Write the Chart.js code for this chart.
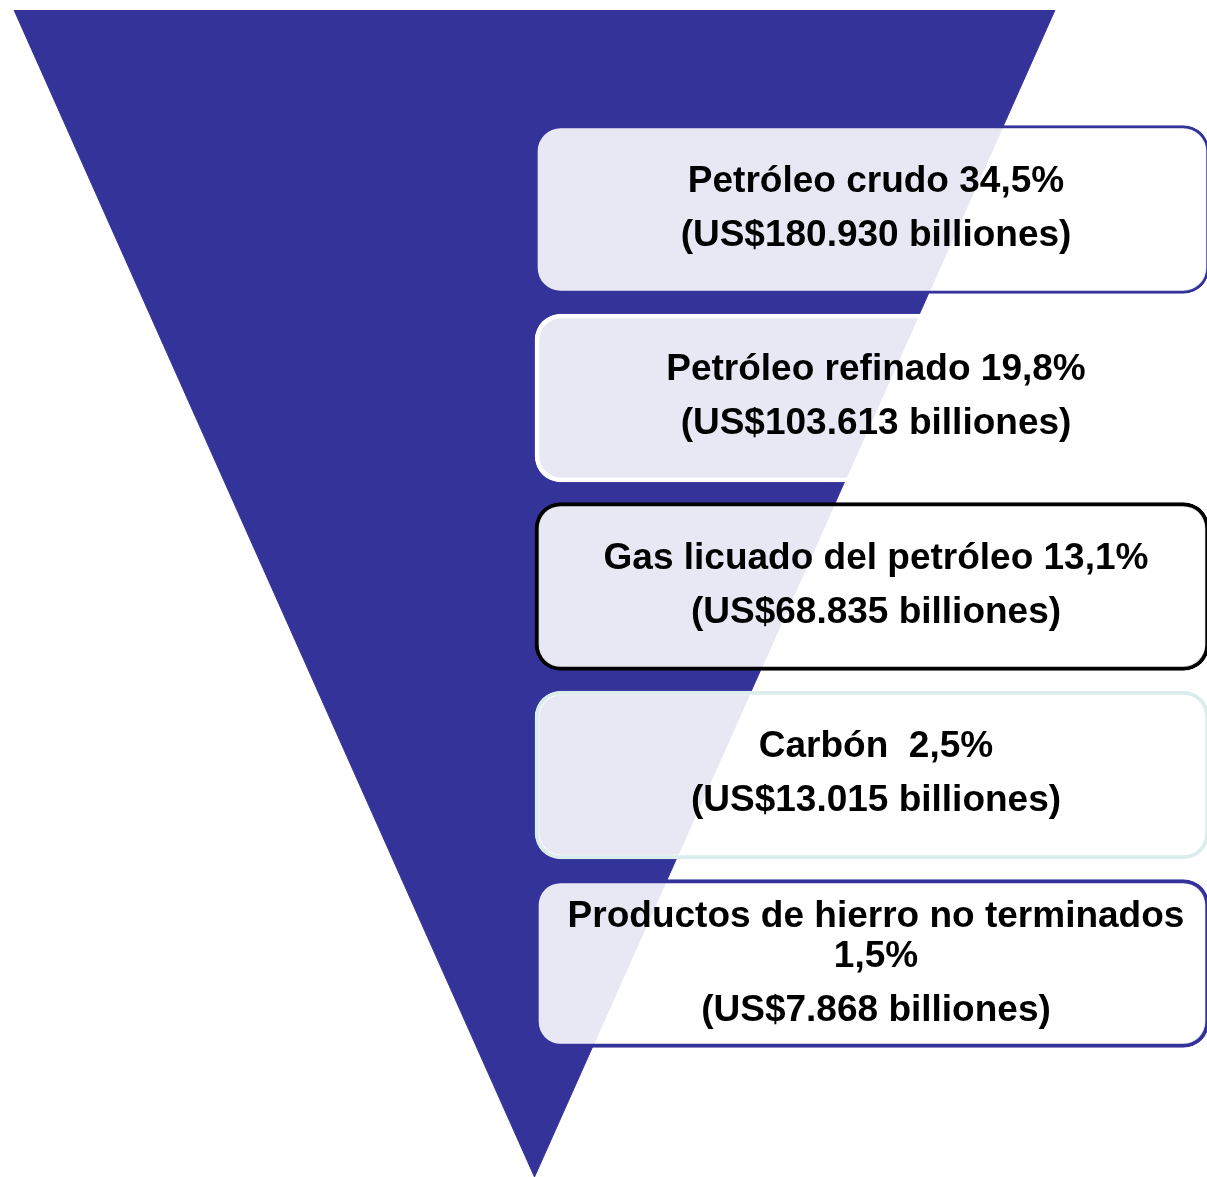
<!DOCTYPE html>
<html lang="es">
<head>
<meta charset="utf-8">
<title>Exportaciones</title>
<script src="https://cdn.jsdelivr.net/npm/chart.js@4.4.1/dist/chart.umd.min.js"></script>
<style>
  html, body { margin: 0; padding: 0; background: #fff; }
  #wrap { width: 1207px; height: 1177px; }
</style>
</head>
<body>
<div id="wrap"><canvas id="chart" width="1207" height="1177"></canvas></div>
<script>
'use strict';

var categories = ['Petróleo crudo', 'Petróleo refinado', 'Gas licuado del petróleo', 'Carbón ', 'Productos de hierro no terminados'];
var shares = [34.5, 19.8, 13.1, 2.5, 1.5];
var valuesUSD = [180930, 103613, 68835, 13015, 7868];

// funnel outline: top edge from -1 to 1, apex at 0
var funnelX = [-1, 0, 1];
var funnelY = [0, 1, 0];

// layout (pixels)
var W = 1207, H = 1177;
var BOX_LEFT = 535, BOX_RIGHT = 1209, BOX_H = 168;
var FIRST_CENTER = 209.5, STEP = 188.5;
var FUNNEL_LEFT = 14, FUNNEL_RIGHT = 1055, FUNNEL_TOP = 10;

var boxBorders = ['#343399', '#ffffff', '#000000', '#dbeced', '#343399'];
var boxBorderWidths = [3, 4, 4, 4, 4];

function fmtShare(v) {
  return v.toFixed(1).replace('.', ',') + '%';
}

function fmtUSD(v) {
  return 'US$' + String(v).replace(/\B(?=(\d{3})+(?!\d))/g, '.');
}

function boxLines(i) {
  var money = '(' + fmtUSD(valuesUSD[i]) + ' billiones)';
  if (categories[i].length > 28) {
    return [categories[i], fmtShare(shares[i]), money];
  }
  return [categories[i] + ' ' + fmtShare(shares[i]), money];
}

var boxText = {
  id: 'boxText',
  afterDatasetsDraw: function(chart) {
    var ctx = chart.ctx;
    var bars = chart.getDatasetMeta(0).data;
    ctx.save();
    ctx.font = 'bold 37px "Liberation Sans", Arial, sans-serif';
    ctx.fillStyle = '#000';
    ctx.textAlign = 'center';
    ctx.textBaseline = 'middle';
    bars.forEach(function(bar, i) {
      var lines = boxLines(i);
      var cx = (bar.x + bar.base) / 2 + 4;
      var offsets = lines.length === 2 ? [-28, 26] : [-47, -7, 47];
      lines.forEach(function(t, k) {
        ctx.fillText(t, cx, bar.y + offsets[k]);
      });
    });
    ctx.restore();
  }
};

var fHalf = (FUNNEL_RIGHT - FUNNEL_LEFT) / 2;
var fMid = FUNNEL_LEFT + fHalf;

function hiddenAxis(min, max, reverse) {
  return {
    type: 'linear', display: false, offset: false, beginAtZero: false,
    bounds: 'data', reverse: !!reverse, min: min, max: max, grace: 0
  };
}

var ctx = document.getElementById('chart').getContext('2d');
var myChart = new Chart(ctx, {
  type: 'bar',
  data: {
    labels: categories,
    datasets: [{
      type: 'bar',
      indexAxis: 'y',
      xAxisID: 'xb',
      yAxisID: 'yb',
      data: categories.map(function(c, i) {
        return { x: [BOX_LEFT, BOX_RIGHT], y: i };
      }),
      backgroundColor: 'rgba(255, 255, 255, 0.89)',
      borderColor: boxBorders,
      borderWidth: boxBorderWidths,
      borderRadius: 26,
      borderSkipped: false,
      barThickness: BOX_H,
      grouped: false,
      order: 1
    }, {
      type: 'line',
      indexAxis: 'x',
      xAxisID: 'xf',
      yAxisID: 'yf',
      data: funnelX.map(function(x, i) {
        return { x: x, y: funnelY[i] };
      }),
      fill: 'origin',
      backgroundColor: '#343399',
      borderColor: '#343399',
      borderWidth: 1,
      tension: 0,
      pointRadius: 0,
      clip: false,
      order: 2
    }]
  },
  options: {
    responsive: false,
    devicePixelRatio: 1,
    animation: false,
    layout: { padding: 0 },
    plugins: {
      legend: { display: false },
      tooltip: { enabled: false }
    },
    scales: {
      xb: hiddenAxis(0, W),
      yb: hiddenAxis(-FIRST_CENTER / STEP, (H - FIRST_CENTER) / STEP, true),
      xf: hiddenAxis(-fMid / fHalf, (W - fMid) / fHalf),
      yf: hiddenAxis(-FUNNEL_TOP / (H - FUNNEL_TOP), 1, true)
    }
  },
  plugins: [boxText]
});
</script>
</body>
</html>
